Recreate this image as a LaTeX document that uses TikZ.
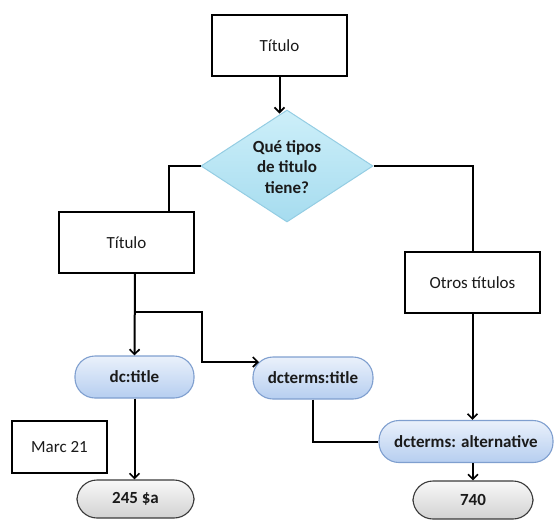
\documentclass[tikz,border=0pt]{standalone}
\usepackage{fontspec}
\setmainfont{Carlito}
\usetikzlibrary{shapes.geometric,arrows.meta}

\definecolor{ink}{HTML}{1A1A1A}
\definecolor{diaTop}{HTML}{CDEFF9}
\definecolor{diaBot}{HTML}{A6DCEF}
\definecolor{diaLine}{HTML}{94CDE3}
\definecolor{bluTop}{HTML}{EAF1FB}
\definecolor{bluBot}{HTML}{B6CEF0}
\definecolor{bluLine}{HTML}{7F9FCF}
\definecolor{gryTop}{HTML}{F8F8F8}
\definecolor{gryBot}{HTML}{D2D2D2}
\definecolor{gryLine}{HTML}{3A3A3A}

\tikzset{
  every node/.style={font=\fontsize{17}{20}\selectfont, text=ink},
  box/.style={draw=black, line width=1.8pt, fill=white, inner sep=0pt},
  pill/.style={rounded corners=20pt, line width=1.1pt, inner sep=0pt,
    font=\fontsize{17}{20}\selectfont\bfseries},
  bluepill/.style={pill, draw=bluLine, top color=bluTop, bottom color=bluBot},
  greypill/.style={pill, draw=gryLine, top color=gryTop, bottom color=gryBot},
  wire/.style={draw=black, line width=2pt},
  arr/.style={wire, -{Straight Barb[length=5pt,width=10pt,line width=1.7pt]}},
}

\begin{document}
\begin{tikzpicture}[x=1pt,y=-1pt]
\useasboundingbox (0,0) rectangle (555,520);

% boxes
\node[box, minimum width=135pt, minimum height=61pt] (t1) at (279.5,45.5) {Título};
\node[box, minimum width=135pt, minimum height=61pt] (t2) at (126.5,242.5) {Título};
\node[box, minimum width=135pt, minimum height=61pt] (t3) at (472.5,282.5) {Otros títulos};
\node[box, minimum width=95pt, minimum height=52pt] (marc) at (59.5,447) {Marc 21};

% decision
\node[diamond, draw=diaLine, line width=1pt, top color=diaTop, bottom color=diaBot,
      minimum width=172pt, minimum height=112pt, inner sep=0pt] (q) at (287,166) {};
\node[align=center, font=\fontsize{17}{20.5}\selectfont\bfseries] (qt) at (287,167)
  {Qué tipos\\de titulo\\tiene?};

% element nodes
\node[bluepill, minimum width=119pt, minimum height=42pt] (dc) at (134.5,377) {dc:title};
\node[bluepill, minimum width=120pt, minimum height=42pt] (dct) at (313,378) {dcterms:title};
\node[bluepill, minimum width=174pt, minimum height=42pt] (alt) at (466,441.5) {dcterms: alternative};
\node[greypill, minimum width=117pt, minimum height=38pt] (m245) at (135.5,499) {245 \$a};
\node[greypill, minimum width=120pt, minimum height=38pt] (m740) at (473,500) {740};

% branch points
\coordinate (j1) at (135,312);
\coordinate (j2) at (202,362);
\coordinate (j3) at (259,362);

% connectors
\draw[arr] (t1.south) -- ([yshift=-4pt]t1.south |- q.north);
\draw[wire] (q.west) -| ([xshift=42.5pt]t2.north);
\draw[wire] (q.east) -| (t3.north);
\draw[arr] (j1 |- t2.south) -- (dc.north);
\draw[arr] (j1) -| (j2) -- (j3);
\draw[arr] (dc.south) -- (dc.south |- m245.north);
\draw[wire] (dct.south) |- (alt.west);
\draw[arr] (t3.south) -- (t3.south |- alt.north);
\draw[arr] (alt.south -| m740.north) -- (m740.north);
\end{tikzpicture}
\end{document}
